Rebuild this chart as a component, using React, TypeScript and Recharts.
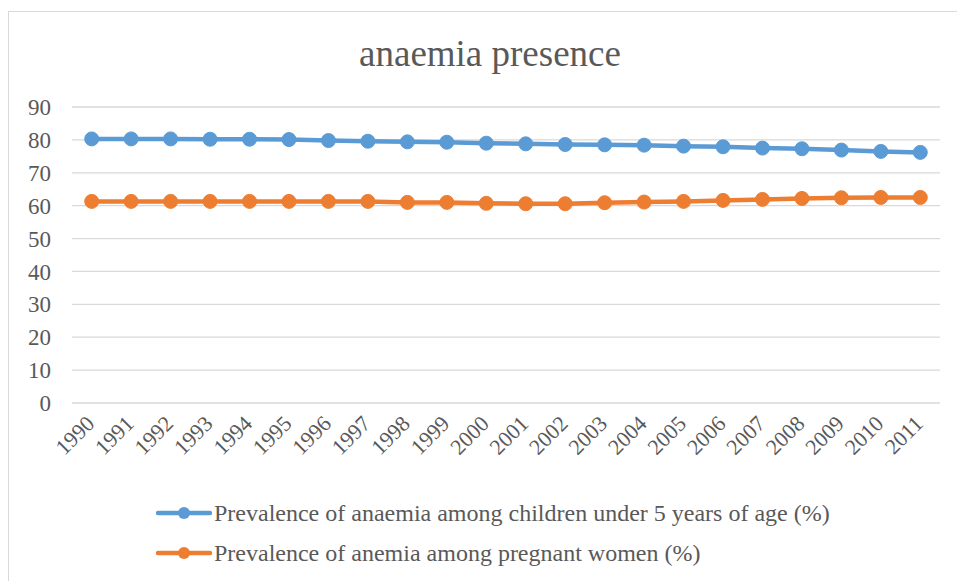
import React from 'react';
import { LineChart, Line, XAxis, YAxis, CartesianGrid } from 'recharts';

const years = ['1990','1991','1992','1993','1994','1995','1996','1997','1998','1999','2000','2001','2002','2003','2004','2005','2006','2007','2008','2009','2010','2011'];
const childrenValues = [80.3,80.3,80.3,80.2,80.2,80.1,79.8,79.6,79.4,79.3,79.0,78.8,78.6,78.5,78.4,78.1,77.9,77.5,77.3,76.9,76.5,76.2];
const pregnantValues = [61.3,61.3,61.3,61.3,61.3,61.3,61.3,61.3,61.0,61.0,60.7,60.6,60.6,60.9,61.1,61.3,61.6,61.9,62.2,62.4,62.5,62.5];
const yTicks = [0,10,20,30,40,50,60,70,80,90];
const chartTitle = 'anaemia presence';
const seriesNames = [
  'Prevalence of anaemia among children under 5 years of age (%)',
  'Prevalence of anemia among pregnant women (%)',
];
const seriesKeys = ['children', 'pregnant'];
const seriesColors = ['#5b9bd5', '#ed7d31'];

const data = years.map((y, i) => ({ year: y, children: childrenValues[i], pregnant: pregnantValues[i] }));

const FONT = '"Liberation Serif", "Times New Roman", serif';
const TEXT = '#595959';

const XTick = (props: any) => {
  const { x, y, payload } = props;
  const ty = y + 14;
  const tx = x + 4;
  return (
    <text x={tx} y={ty} transform={`rotate(-45 ${tx} ${ty})`} textAnchor="end" fill={TEXT} fontSize={22} fontFamily={FONT}>
      {payload.value}
    </text>
  );
};

const YTick = (props: any) => {
  const { x, y, payload } = props;
  return (
    <text x={x} y={y} dy="0.355em" textAnchor="end" fill={TEXT} fontSize={23} fontFamily={FONT}>
      {payload.value}
    </text>
  );
};

export default function App() {
  return (
    <div style={{ position: 'absolute', left: 0, top: 0, width: 957, height: 581, background: '#fff', overflow: 'hidden', fontFamily: FONT }}>
      <div style={{ position: 'absolute', left: 8, top: 11, width: 1000, height: 700, border: '1px solid #d9d9d9', boxSizing: 'border-box' }} />
      <div style={{ position: 'absolute', left: 0, top: 32, width: 980, textAlign: 'center', fontSize: 37, lineHeight: '44px', color: TEXT }}>
        {chartTitle}
      </div>
      <div style={{ position: 'absolute', left: 0, top: 0 }}>
        <LineChart width={957} height={581} data={data} margin={{ top: 107, right: 17, left: 0, bottom: 118 }}>
          <CartesianGrid vertical={false} stroke="#d9d9d9" strokeWidth={1.3} />
          <XAxis dataKey="year" height={60} axisLine={false} tickLine={false} interval={0} padding={{ left: 19.7, right: 19.7 }} tick={<XTick />} />
          <YAxis width={72} domain={[0, 90]} ticks={yTicks} axisLine={false} tickLine={false} tickSize={0} tickMargin={21}
            tick={<YTick />} />
          {seriesKeys.map((k, i) => (
            <Line key={k} type="linear" dataKey={k} stroke={seriesColors[i]} strokeWidth={4.5}
              dot={{ r: 7, fill: seriesColors[i], stroke: seriesColors[i], strokeWidth: 1 }}
              isAnimationActive={false} />
          ))}
        </LineChart>
      </div>
      <div style={{ position: 'absolute', left: 156, top: 493 }}>
        {seriesNames.map((name, i) => (
          <div key={name} style={{ display: 'flex', alignItems: 'center', height: 40 }}>
            <svg width={56} height={16} style={{ display: 'block' }}>
              <line x1={2} y1={8} x2={54} y2={8} stroke={seriesColors[i]} strokeWidth={4.5} strokeLinecap="round" />
              <circle cx={28} cy={8} r={6} fill={seriesColors[i]} />
            </svg>
            <span style={{ fontSize: 24, color: TEXT, marginLeft: 2, whiteSpace: 'nowrap', lineHeight: '40px' }}>{name}</span>
          </div>
        ))}
      </div>
    </div>
  );
}
